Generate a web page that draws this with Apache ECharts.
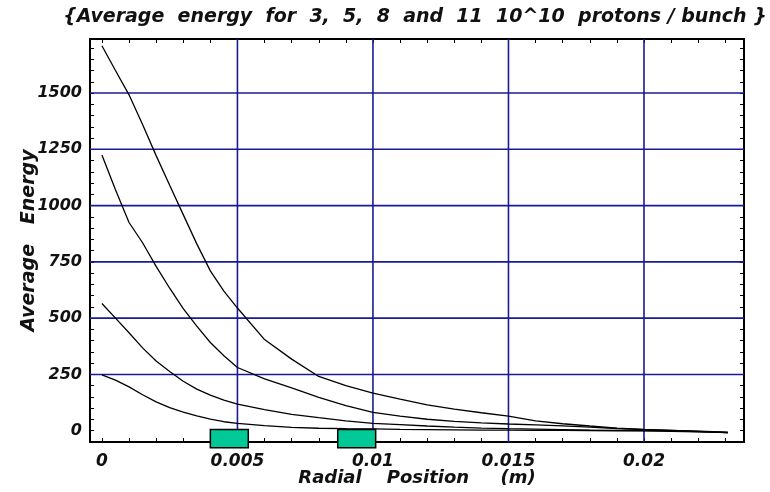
<!DOCTYPE html>
<html>
<head>
<meta charset="utf-8">
<script src="https://cdn.jsdelivr.net/npm/echarts@6/dist/echarts.min.js"></script>
<style>
  html, body { margin: 0; padding: 0; background: #fff; }
  #chart { width: 770px; height: 492px; }
</style>
</head>
<body>
<div id="chart"></div>
<script>
// radial positions (m), shared by all four curves
const radius = [0, 0.0005, 0.001, 0.0015, 0.002, 0.0025, 0.003, 0.0035, 0.004, 0.0045,
  0.005, 0.006, 0.007, 0.008, 0.009, 0.010, 0.011, 0.012, 0.013, 0.014,
  0.015, 0.016, 0.017, 0.018, 0.019, 0.020, 0.021, 0.022, 0.0231]

// average energy (keV) for 11, 8, 5 and 3 10^10 protons / bunch
const energy11 = [1710, 1600, 1492, 1360, 1222, 1090, 960, 830, 710, 620,
  545, 405, 318, 241, 200, 167, 140, 115, 96, 80,
  65, 44, 31, 21, 12, 6, 2, -2, -6]
const energy8 = [1225, 1070, 925, 835, 730, 633, 542, 465, 392, 333,
  281, 230, 190, 148, 112, 82, 65, 51, 42, 35,
  30, 26, 22, 16, 10, 5, 1, -3, -8]
const energy5 = [565, 500, 435, 368, 310, 263, 220, 185, 158, 136,
  118, 94, 73, 58, 44, 33, 27, 21, 16, 12,
  9, 7, 5, 3, 2, 1, -1, -4, -8]
const energy3 = [248, 225, 195, 160, 128, 103, 83, 66, 52, 40,
  33, 23, 15, 11, 9, 8, 6, 5, 4, 3,
  3, 2, 2, 1, 0, -1, -3, -5, -8]

// grid lines and labelled ticks
const xGridValues = [0.005, 0.01, 0.015, 0.02]
const yGridValues = [250, 500, 750, 1000, 1250, 1500]
const xLabelStep = 0.005
const yLabelStep = 250

// green blocks along the axis: [x start, x end, y bottom, y top]
const blocks = [
  [0.004, 0.0054, -75, 6],
  [0.0087, 0.0101, -75, 6]
]

const X_MIN = -0.00044, X_MAX = 0.02369
const Y_MIN = -50, Y_MAX = 1740

const FONT = 'DejaVu Sans'
const GRID_BLUE = '#1a1a96'
const labelStyle = { fontFamily: FONT, fontWeight: 'bold', fontStyle: 'italic', fontSize: 16, color: '#111' }

const frameLine = { show: true, onZero: false, lineStyle: { color: '#000', width: 2 } }
const frameTick = { show: true, inside: true, length: 4, lineStyle: { color: '#000', width: 1 } }

function xAxisDef(pos, withLabels) {
  return {
    type: 'value', position: pos, min: X_MIN, max: X_MAX,
    minInterval: 0.001, maxInterval: 0.001,
    axisLine: frameLine, axisTick: frameTick, splitLine: { show: false },
    axisLabel: {
      show: withLabels, margin: 11, ...labelStyle, fontSize: 17,
      showMinLabel: false, showMaxLabel: false,
      formatter: (v) => {
        const k = v / xLabelStep
        if (v < -1e-9 || Math.abs(k - Math.round(k)) > 1e-6) return ''
        return String(parseFloat(v.toFixed(4)))
      }
    },
    name: withLabels ? 'Radial    Position     (m)' : '',
    nameLocation: 'middle', nameGap: 27, nameMoveOverlap: false,
    nameTextStyle: { ...labelStyle, fontSize: 18 }
  }
}

function yAxisDef(pos, withLabels) {
  return {
    type: 'value', position: pos, min: Y_MIN, max: Y_MAX, interval: 50,
    axisLine: frameLine, axisTick: frameTick, splitLine: { show: false },
    axisLabel: {
      show: withLabels, margin: 8, ...labelStyle,
      formatter: (v) => (v >= 0 && v % yLabelStep === 0 ? String(v) : '')
    },
    name: withLabels ? 'Average   Energy' : '',
    nameLocation: 'middle', nameGap: 51, nameRotate: 90, nameMoveOverlap: false,
    nameTextStyle: { ...labelStyle, fontSize: 19 }
  }
}

function curve(name, values) {
  return {
    name, type: 'line', showSymbol: false, z: 3,
    lineStyle: { color: '#000', width: 1.3 },
    data: radius.map((r, i) => [r, values[i]])
  }
}

// straight grid line across the plot at a data value
function gridLine(vertical) {
  return (params, api) => {
    const cs = params.coordSys
    const p = api.coord([api.value(0), api.value(1)])
    const shape = vertical
      ? { x1: p[0], y1: cs.y, x2: p[0], y2: cs.y + cs.height }
      : { x1: cs.x, y1: p[1], x2: cs.x + cs.width, y2: p[1] }
    return { type: 'line', shape, style: { stroke: GRID_BLUE, lineWidth: 1.6 } }
  }
}

const chart = echarts.init(document.getElementById('chart'))
chart.setOption({
  animation: false,
  backgroundColor: '#fff',
  title: {
    text: '{Average  energy  for  3,  5,  8  and  11  10^10  protons / bunch }',
    left: 415, top: 8, padding: 0, textAlign: 'center',
    textStyle: { ...labelStyle, fontSize: 19 }
  },
  grid: { left: 90, right: 26, top: 39, bottom: 49 },
  xAxis: [xAxisDef('bottom', true), xAxisDef('top', false)],
  yAxis: [yAxisDef('left', true), yAxisDef('right', false)],
  series: [
    {
      type: 'custom', z: 1, silent: true,
      data: xGridValues.map(v => [v, 0]),
      encode: { x: 0, y: 1 },
      renderItem: gridLine(true)
    },
    {
      type: 'custom', z: 1, silent: true,
      data: yGridValues.map(v => [0, v]),
      encode: { x: 0, y: 1 },
      renderItem: gridLine(false)
    },
    curve('11', energy11),
    curve('8', energy8),
    curve('5', energy5),
    curve('3', energy3),
    {
      type: 'custom', z: 5, clip: false,
      data: blocks,
      encode: { x: [0, 1], y: [2, 3] },
      renderItem: (params, api) => {
        const p0 = api.coord([api.value(0), api.value(3)])
        const p1 = api.coord([api.value(1), api.value(2)])
        return {
          type: 'rect',
          shape: { x: p0[0], y: p0[1], width: p1[0] - p0[0], height: p1[1] - p0[1] },
          style: { fill: '#00c896', stroke: '#000', lineWidth: 1.5 }
        }
      }
    }
  ]
})
</script>
</body>
</html>
